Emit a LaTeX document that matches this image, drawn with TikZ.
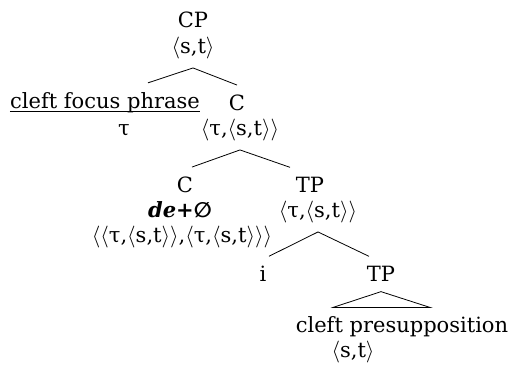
\documentclass[tikz,border=0pt]{standalone}
\usepackage{fontspec}
\setmainfont{DejaVu Serif}
\newfontfamily\symfont{DejaVu Sans}
\usepackage{tikz}
% a semantic type in angle brackets
\newcommand{\ty}[1]{\ensuremath{\langle}#1\ensuremath{\rangle}}
\newcommand{\st}{\ty{s,t}}

\begin{document}
\begin{tikzpicture}[x=0.5pt,y=-0.5pt,
    lbl/.style={inner sep=0pt,font=\fontsize{10.5}{12}\selectfont},
    typ/.style={lbl,outer ysep=4.5pt}]
  \useasboundingbox (0,0) rectangle (515,367);
  % labels and their types
  \node[lbl] (cp) at (193,20) {CP};
  \node[typ] (cpt) at (193,48) {\st};
  \node[lbl,outer ysep=5pt] (cfp) at (105,103) {cleft focus phrase};
  \node[lbl] (tau) at (124,130) {τ};
  \node[lbl,outer ysep=5pt] (c1) at (237,103) {C};
  \node[typ] (c1t) at (240,130) {\ty{τ,\st}};
  \node[lbl,outer ysep=5pt] (c2) at (185,185) {C};
  \node[lbl] (de) at (180,210) {\textbf{\textit{de+{\symfont ∅}}}};
  \node[lbl] (c2t) at (182,237) {\ty{\ty{τ,\st},\ty{τ,\st}}};
  \node[lbl,outer ysep=5pt] (tp1) at (310,185) {TP};
  \node[typ] (tp1t) at (318,212) {\ty{τ,\st}};
  \node[lbl,outer ysep=5pt] (i) at (263,274) {i};
  \node[lbl,outer ysep=5pt] (tp2) at (381,274) {TP};
  \node[lbl] (pres) at (402,327) {cleft presupposition};
  \node[lbl] (prest) at (353,352) {\st};
  % underline of the focus phrase, through the descender
  \draw ([yshift=-1.4pt]cfp.base west) -- ([yshift=-1.4pt]cfp.base east);
  % branches
  \draw (cpt.south) -- ([xshift=21.5pt]cfp.north);
  \draw (cpt.south) -- (c1.north);
  \draw (c1t.south) -- ([xshift=3.5pt]c2.north);
  \draw (c1t.south) -- ([xshift=-10pt]tp1.north);
  \draw (tp1t.south) -- ([xshift=3pt]i.north);
  \draw (tp1t.south) -- ([xshift=-6pt]tp2.north);
  % roof over the presupposition
  \draw (tp2.south) -- ([xshift=-34.5pt,yshift=4.5pt]pres.north)
    -- ([xshift=14pt,yshift=4.5pt]pres.north) -- cycle;
\end{tikzpicture}
\end{document}
